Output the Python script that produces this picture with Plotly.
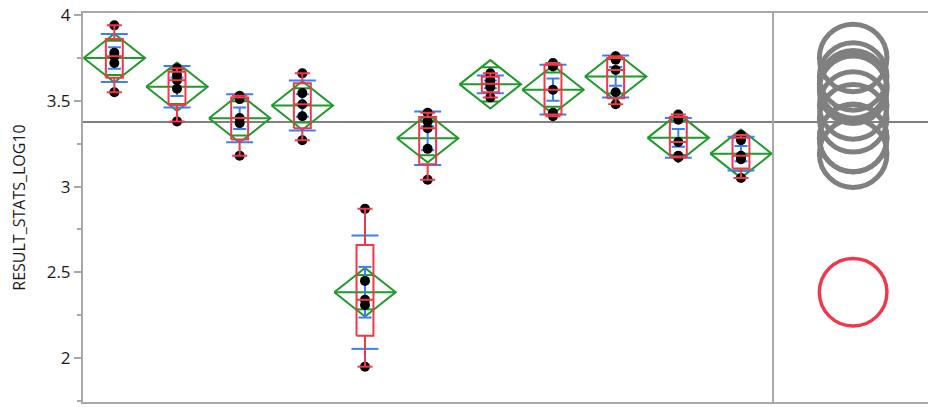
import numpy as np
import plotly.graph_objects as go

# RESULT_STATS_LOG10 readings per group, left to right
group_values = [
    [3.94, 3.78, 3.76, 3.72, 3.55],
    [3.69, 3.65, 3.62, 3.57, 3.38],
    [3.53, 3.51, 3.40, 3.37, 3.18],
    [3.66, 3.545, 3.48, 3.41, 3.27],
    [2.87, 2.45, 2.34, 2.31, 1.95],
    [3.43, 3.38, 3.34, 3.22, 3.04],
    [3.66, 3.62, 3.60, 3.58, 3.52],
    [3.72, 3.70, 3.565, 3.43, 3.41],
    [3.76, 3.74, 3.68, 3.55, 3.48],
    [3.42, 3.39, 3.26, 3.18, 3.17],
    [3.30, 3.27, 3.18, 3.16, 3.05],
]
selected_group = 4        # highlighted (red) comparison circle
circle_radius = 0.197     # comparison circle radius
t_crit = 2.015            # t(0.975, df=44)

y_ticks = [2, 2.5, 3, 3.5, 4]
y_tick_text = ["2", "2.5", "3", "3.5", "4"]

GREEN = "#1f9a2a"
RED = "#ef3849"
BLUE = "#3b7ff2"
FRAME = "#a8a8a8"
GRAY = "#808080"

# stats
ns = [len(v) for v in group_values]
means = [float(np.mean(v)) for v in group_values]
sds = [float(np.std(v, ddof=1)) for v in group_values]
ses = [s / np.sqrt(n) for s, n in zip(sds, ns)]
pooled = np.sqrt(sum((n - 1) * s ** 2 for n, s in zip(ns, sds)) / sum(n - 1 for n in ns))
cis = [t_crit * pooled / np.sqrt(n) for n in ns]
grand_mean = float(np.mean(np.concatenate(group_values)))


def seg(xs, ys, x0, x1, y0, y1):
    xs += [x0, x1, None]
    ys += [y0, y1, None]


pts_x, pts_y = [], []
dia_x, dia_y = [], []
sd_x, sd_y = [], []
se_x, se_y = [], []
box_x, box_y = [], []

DW = 0.49   # diamond half width
BW = 0.135  # box half width
CW = 0.12   # whisker cap half width
SDW = 0.215
SEW = 0.105

for i, vals in enumerate(group_values):
    pts_x += [i] * len(vals)
    pts_y += vals
    m, ci = means[i], cis[i]
    # means diamond
    dia_x += [i - DW, i, i + DW, i, i - DW, None]
    dia_y += [m, m + ci, m, m - ci, m, None]
    seg(dia_x, dia_y, i - DW, i + DW, m, m)
    ov = ci / np.sqrt(2)
    hw = DW * (1 - ov / ci)
    seg(dia_x, dia_y, i - hw, i + hw, m + ov, m + ov)
    seg(dia_x, dia_y, i - hw, i + hw, m - ov, m - ov)
    # std dev lines
    seg(sd_x, sd_y, i - SDW, i + SDW, m + sds[i], m + sds[i])
    seg(sd_x, sd_y, i - SDW, i + SDW, m - sds[i], m - sds[i])
    # mean error bars
    seg(se_x, se_y, i, i, m - ses[i], m + ses[i])
    seg(se_x, se_y, i - SEW, i + SEW, m + ses[i], m + ses[i])
    seg(se_x, se_y, i - SEW, i + SEW, m - ses[i], m - ses[i])
    # outlier box plot
    q1, med, q3 = np.percentile(vals, [25, 50, 75], method="weibull")
    iqr = q3 - q1
    lo = min(v for v in vals if v >= q1 - 1.5 * iqr)
    hi = max(v for v in vals if v <= q3 + 1.5 * iqr)
    box_x += [i - BW, i + BW, i + BW, i - BW, i - BW, None]
    box_y += [q1, q1, q3, q3, q1, None]
    seg(box_x, box_y, i - BW, i + BW, med, med)
    seg(box_x, box_y, i, i, q3, hi)
    seg(box_x, box_y, i, i, q1, lo)
    seg(box_x, box_y, i - CW, i + CW, hi, hi)
    seg(box_x, box_y, i - CW, i + CW, lo, lo)

fig = go.Figure()
fig.add_trace(go.Scatter(x=dia_x, y=dia_y, mode="lines", line=dict(color=GREEN, width=2)))
fig.add_trace(go.Scatter(x=sd_x, y=sd_y, mode="lines", line=dict(color=BLUE, width=2)))
fig.add_trace(go.Scatter(x=se_x, y=se_y, mode="lines", line=dict(color=BLUE, width=2)))
fig.add_trace(go.Scatter(x=pts_x, y=pts_y, mode="markers", marker=dict(color="black", size=10)))
fig.add_trace(go.Scatter(x=box_x, y=box_y, mode="lines", line=dict(color=RED, width=2)))
# invisible anchor so the comparison-circle axis is drawn
fig.add_trace(go.Scatter(x=[0], y=[grand_mean], xaxis="x2", yaxis="y",
                         mode="markers", marker=dict(opacity=0)))

# comparison circles
order = [i for i in range(len(means)) if i != selected_group] + [selected_group]
for i in order:
    sel = i == selected_group
    fig.add_shape(type="circle", xref="x2", yref="y",
                  x0=-circle_radius, x1=circle_radius,
                  y0=means[i] - circle_radius, y1=means[i] + circle_radius,
                  line=dict(color=RED if sel else GRAY, width=3.5 if sel else 5))

# grand mean line across both panels
fig.add_shape(type="line", xref="paper", yref="y", x0=0, x1=1,
              y0=grand_mean, y1=grand_mean, line=dict(color=GRAY, width=2), layer="below")
# right border of the circle panel
fig.add_shape(type="line", xref="x2 domain", yref="y domain", x0=1, x1=1, y0=0, y1=1,
              line=dict(color=FRAME, width=2))

# the page body adds an 8px offset, so the figure is sized 8px smaller
fig.update_layout(
    width=928, height=399,
    margin=dict(l=75, r=2, t=5, b=5),
    paper_bgcolor="white", plot_bgcolor="white",
    showlegend=False,
    font=dict(family="Open Sans, Noto Sans, sans-serif", color="#1a1a1a"),
    xaxis=dict(domain=[0, 0.81], range=[-0.5, 10.5], showticklabels=False,
               ticks="", showgrid=False, zeroline=False, automargin=False,
               showline=True, mirror=True, linecolor=FRAME, linewidth=2),
    xaxis2=dict(domain=[0.81, 1], range=[-0.2, 0.2], anchor="y",
                scaleanchor="y", scaleratio=1, automargin=False,
                showticklabels=False, ticks="", showgrid=False, zeroline=False,
                showline=True, mirror=True, linecolor=FRAME, linewidth=2),
    yaxis=dict(range=[1.744, 4.012], tickvals=y_ticks, ticktext=y_tick_text,
               ticks="outside", ticklen=7, tickwidth=1.5, tickcolor=FRAME,
               minor=dict(dtick=0.25, ticks="outside", ticklen=4, tickcolor=FRAME, showgrid=False),
               tickfont=dict(size=17), ticklabeloverflow="allow",
               showgrid=False, zeroline=False, automargin=False,
               showline=True, mirror=True, linecolor=FRAME, linewidth=2,
               title=dict(text="RESULT_STATS_LOG10", font=dict(size=16), standoff=17)),
)

fig.write_html("out.html")
